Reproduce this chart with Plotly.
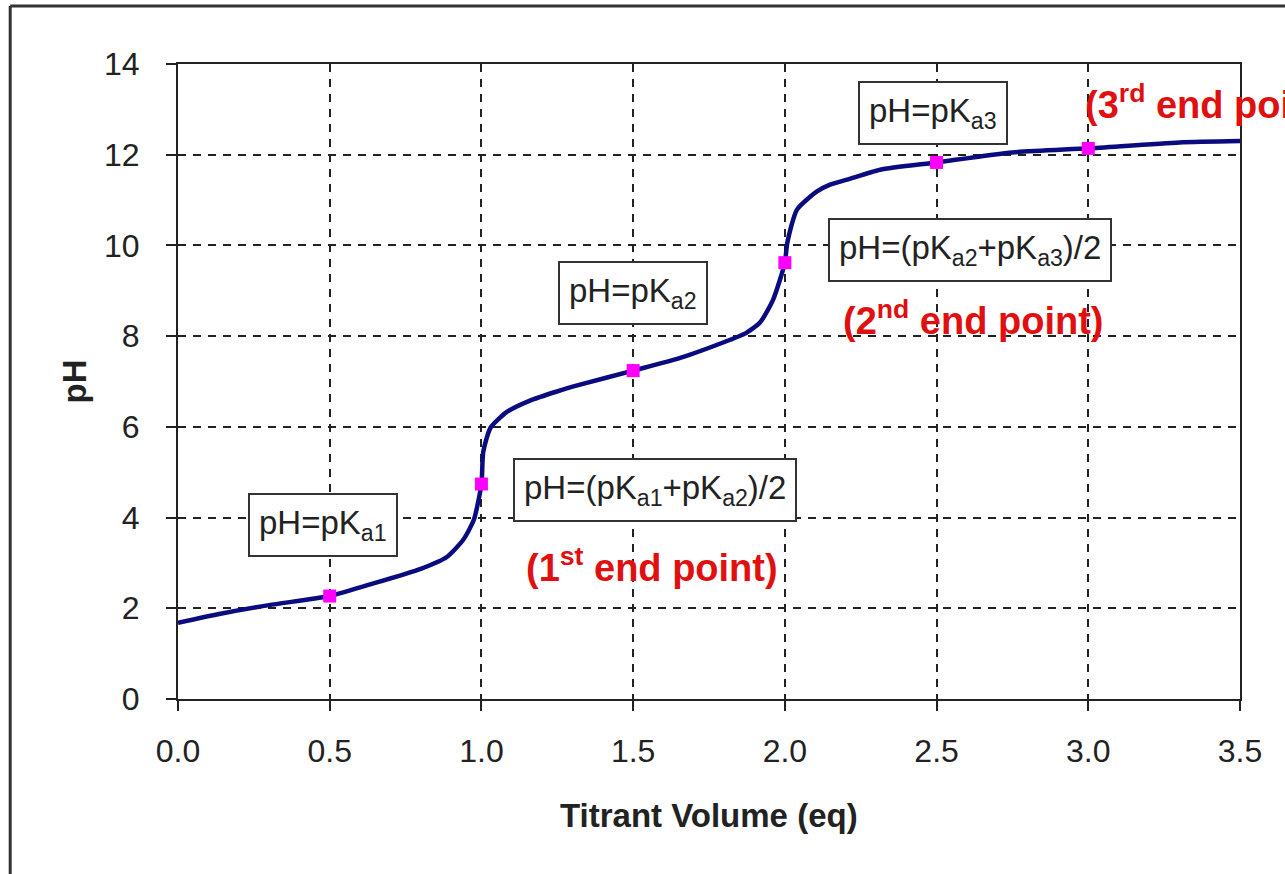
import plotly.graph_objects as go

# Titration curve
volume = [0.0, 0.14, 0.30, 0.50, 0.63, 0.80, 0.886, 0.94, 0.975, 1.0, 1.006, 1.03,
          1.084, 1.16, 1.249, 1.325, 1.5, 1.655, 1.82, 1.87, 1.918, 1.961, 2.0, 2.008,
          2.04, 2.106, 2.149, 2.205, 2.314, 2.5, 2.75, 3.0, 3.3, 3.5]
ph = [1.68, 1.88, 2.07, 2.27, 2.52, 2.87, 3.13, 3.51, 3.95, 4.74, 5.45, 5.98,
      6.33, 6.58, 6.78, 6.93, 7.24, 7.52, 7.92, 8.06, 8.30, 8.80, 9.62, 10.06,
      10.79, 11.19, 11.34, 11.45, 11.67, 11.83, 12.05, 12.14, 12.27, 12.30]

# Highlighted points
mark_volume = [0.5, 1.0, 1.5, 2.0, 2.5, 3.0]
mark_ph = [2.27, 4.74, 7.24, 9.62, 11.83, 12.14]

x_ticks = [0.0, 0.5, 1.0, 1.5, 2.0, 2.5, 3.0, 3.5]
x_tick_labels = ["0.0", "0.5", "1.0", "1.5", "2.0", "2.5", "3.0", "3.5"]
y_ticks = [0, 2, 4, 6, 8, 10, 12, 14]

box_labels = ["pH=pK<sub>a1</sub>", "pH=(pK<sub>a1</sub>+pK<sub>a2</sub>)/2", "pH=pK<sub>a2</sub>",
              "pH=(pK<sub>a2</sub>+pK<sub>a3</sub>)/2", "pH=pK<sub>a3</sub>"]
box_x = [0.478, 1.572, 1.5, 2.61, 2.489]
box_y = [3.84, 4.61, 8.96, 9.89, 12.93]

end_labels = ["(1<sup>st</sup> end point)", "(2<sup>nd</sup> end point)"]
end_x = [1.562, 2.62]
end_y = [2.96, 8.41]
third_label = "(3<sup>rd</sup> end point)"
third_x = 2.983
third_y = 13.17

FONT = "Liberation Sans, Arial, sans-serif"

fig = go.Figure()
fig.add_trace(go.Scatter(x=volume, y=ph, mode="lines",
                         line=dict(color="#0b0b80", width=4.5, shape="spline", smoothing=0.6),
                         hoverinfo="skip", showlegend=False))
fig.add_trace(go.Scatter(x=mark_volume, y=mark_ph, mode="markers",
                         marker=dict(color="#ff00ff", symbol="square", size=13),
                         showlegend=False))

annotations = []
for t, x, y in zip(box_labels, box_x, box_y):
    annotations.append(dict(x=x, y=y, xref="x", yref="y", text=t, showarrow=False,
                            font=dict(family=FONT, size=33, color="#222"),
                            bgcolor="white", bordercolor="#333", borderwidth=2, borderpad=9))
for t, x, y in zip(end_labels, end_x, end_y):
    annotations.append(dict(x=x, y=y, xref="x", yref="y", text="<b>" + t + "</b>", showarrow=False,
                            font=dict(family=FONT, size=38, color="#e01010")))
annotations.append(dict(x=third_x, y=third_y, xref="x", yref="y", text="<b>" + third_label + "</b>",
                        showarrow=False, xanchor="left",
                        font=dict(family=FONT, size=38, color="#e01010")))
# axis titles
annotations.append(dict(x=0.5, y=-0.1827, xref="paper", yref="paper", text="<b>Titrant Volume (eq)</b>",
                        showarrow=False, xanchor="center", yanchor="middle",
                        font=dict(family=FONT, size=33, color="#222")))
annotations.append(dict(x=-0.097, y=0.5, xref="paper", yref="paper", text="<b>pH</b>", textangle=-90,
                        showarrow=False, xanchor="center", yanchor="middle",
                        font=dict(family=FONT, size=33, color="#222")))

shapes = [
    dict(type="line", xref="paper", yref="paper", x0=-0.158, x1=-0.158, y0=-0.4, y1=1.0913,
         line=dict(color="#333", width=3)),
    dict(type="line", xref="paper", yref="paper", x0=-0.158, x1=1.2, y0=1.0913, y1=1.0913,
         line=dict(color="#333", width=3)),
]

fig.update_layout(
    width=1285, height=874,
    margin=dict(l=178, r=45, t=64, b=175),
    paper_bgcolor="white", plot_bgcolor="white",
    annotations=annotations, shapes=shapes,
    showlegend=False,
)
fig.update_xaxes(range=[0, 3.5], tickvals=x_ticks, ticktext=x_tick_labels,
                 showgrid=True, gridcolor="#222", gridwidth=2, griddash="8px,7px",
                 showline=True, linecolor="#222", linewidth=2, mirror=True,
                 ticks="outside", ticklen=10, tickwidth=2, tickcolor="#222",
                 tickfont=dict(family=FONT, size=32, color="#222"), ticklabelstandoff=13,
                 zeroline=False)
fig.update_yaxes(range=[0, 14], tickvals=y_ticks,
                 showgrid=True, gridcolor="#222", gridwidth=2, griddash="8px,7px",
                 showline=True, linecolor="#222", linewidth=2, mirror=True,
                 ticks="outside", ticklen=10, tickwidth=2, tickcolor="#222",
                 tickfont=dict(family=FONT, size=32, color="#222"), ticklabelstandoff=20,
                 zeroline=False)

fig.write_html("out.html")
